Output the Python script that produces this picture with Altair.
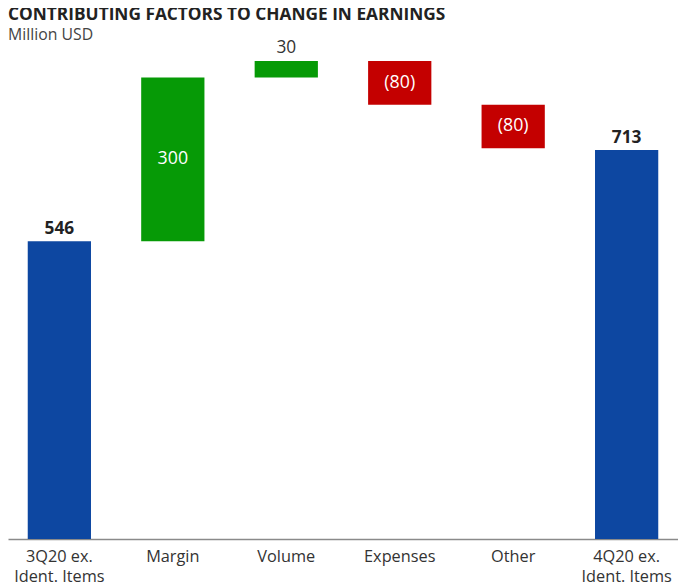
import altair as alt
import pandas as pd

categories = ["3Q20 ex.\nIdent. Items", "Margin", "Volume", "Expenses", "Other", "4Q20 ex.\nIdent. Items"]
values = [546, 300, 30, -80, -80, 713]
kinds = ["total", "delta", "delta", "delta", "delta", "total"]
labels = ["546", "300", "30", "(80)", "(80)", "713"]

BLUE = "#0d47a1"
GREEN = "#069a06"
RED = "#c40000"

rows = []
running = 0
for cat, v, k, lab in zip(categories, values, kinds, labels):
    if k == "total":
        start, end = 0, v
        running = v
        color = BLUE
    else:
        start, end = running, running + v
        running = end
        color = GREEN if v > 0 else RED
    height = abs(end - start)
    if k == "total":
        pos = "bold"
    elif height < 50:
        pos = "above"
    else:
        pos = "inside"
    rows.append(dict(cat=cat, start=start, end=end, top=max(start, end),
                     mid=(start + end) / 2, color=color, label=lab, pos=pos))
df = pd.DataFrame(rows)

FONT = "Open Sans"

x = alt.X("cat:N", sort=categories,
          scale=alt.Scale(paddingInner=0.4425, paddingOuter=0.174),
          axis=alt.Axis(title=None, labelAngle=0, ticks=False,
                        labelExpr="split(datum.label, '\\n')",
                        domainColor="#8a8a8a", domainWidth=1.5,
                        labelFontSize=16.5, labelColor="#333333", labelFont=FONT,
                        labelPadding=10, labelLineHeight=19.5))
yscale = alt.Scale(domain=[0, 880], nice=False, zero=True)

bars = alt.Chart(df).mark_bar().encode(
    x=x,
    y=alt.Y("start:Q", scale=yscale, axis=None),
    y2="end:Q",
    color=alt.Color("color:N", scale=None),
)

bold_text = alt.Chart(df).transform_filter("datum.pos == 'bold'").mark_text(
    baseline="alphabetic", dy=-7, fontSize=17.5, fontWeight="bold", font=FONT, color="#222222"
).encode(x=x, y=alt.Y("top:Q", scale=yscale), text="label:N")

above_text = alt.Chart(df).transform_filter("datum.pos == 'above'").mark_text(
    baseline="alphabetic", dy=-8, fontSize=17.5, font=FONT, color="#333333"
).encode(x=x, y=alt.Y("top:Q", scale=yscale), text="label:N")

inside_text = alt.Chart(df).transform_filter("datum.pos == 'inside'").mark_text(
    baseline="middle", fontSize=18, font=FONT, color="white"
).encode(x=x, y=alt.Y("mid:Q", scale=yscale), text="label:N")

chart = alt.layer(bars, bold_text, above_text, inside_text).properties(
    width=678, height=486,
    autosize=alt.AutoSizeParams(type="none"),
    padding={"left": 0, "right": 0, "top": 48, "bottom": 46},
    title=alt.TitleParams(
        text="CONTRIBUTING FACTORS TO CHANGE IN EARNINGS",
        subtitle="Million USD",
        anchor="start", frame="group",
        font=FONT, fontSize=17.5, fontWeight="bold", color="#222222",
        subtitleFont=FONT, subtitleFontSize=16, subtitleColor="#444444",
        subtitlePadding=4, offset=-4,
    ),
).configure_view(stroke=None)

chart.save("out.html", embed_options={"renderer": "svg", "actions": False})
